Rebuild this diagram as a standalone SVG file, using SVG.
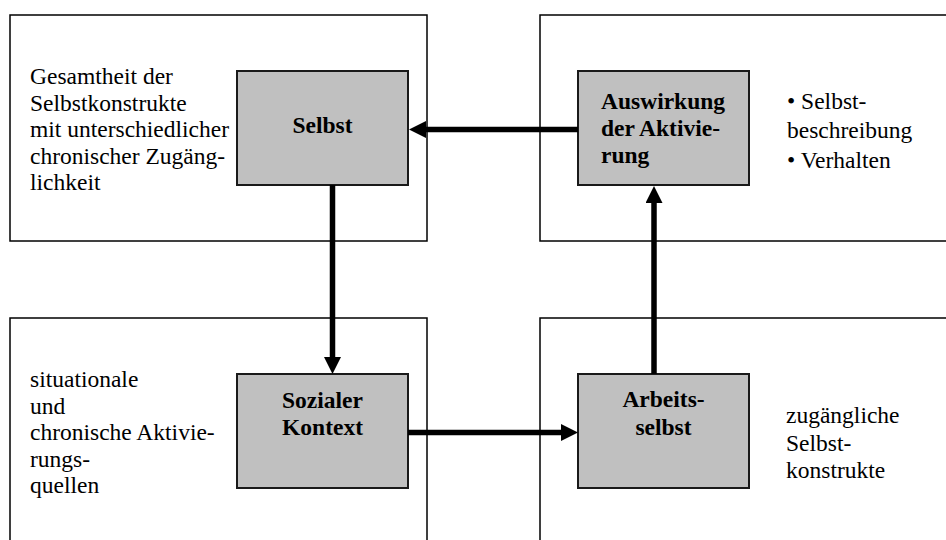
<svg xmlns="http://www.w3.org/2000/svg" width="946" height="540" viewBox="0 0 946 540">
<style>
.outer{fill:#ffffff;stroke:#000000;stroke-width:1.5}
.inner{fill:#c0c0c0;stroke:#1a1a1a;stroke-width:2}
text{font-family:'Liberation Serif','Times New Roman',serif;font-size:23.5px;fill:#000000}
.b{font-weight:bold}
.c{text-anchor:middle}
.conn{stroke:#000000;stroke-width:5.5;fill:none}
</style>
<defs>
<marker id="ah" markerUnits="userSpaceOnUse" markerWidth="18" markerHeight="18" refX="0" refY="8.5" orient="auto">
<path d="M0,0 L17,8.5 L0,17 z" fill="#000000"/>
</marker>
</defs>
<rect x="0" y="0" width="946" height="540" fill="#ffffff"/>
<g id="ctx-selbst">
<rect class="outer" x="10" y="15" width="417" height="226"/>
<text x="30" y="84">Gesamtheit der</text>
<text x="30" y="110.5">Selbstkonstrukte</text>
<text x="30" y="137">mit unterschiedlicher</text>
<text x="30" y="163.5">chronischer Zugäng-</text>
<text x="30" y="190">lichkeit</text>
</g>
<g id="ctx-auswirkung">
<rect class="outer" x="540" y="15" width="420" height="226"/>
<text x="787" y="109">• Selbst-</text>
<text x="787" y="138">beschreibung</text>
<text x="787" y="168">• Verhalten</text>
</g>
<g id="ctx-sozial">
<rect class="outer" x="10" y="318" width="417" height="232"/>
<text x="30" y="387">situationale</text>
<text x="30" y="413.5">und</text>
<text x="30" y="440">chronische Aktivie-</text>
<text x="30" y="466.5">rungs-</text>
<text x="30" y="493">quellen</text>
</g>
<g id="ctx-arbeits">
<rect class="outer" x="540" y="318" width="420" height="232"/>
<text x="786" y="423">zugängliche</text>
<text x="786" y="450.5">Selbst-</text>
<text x="786" y="478">konstrukte</text>
</g>
<g id="selbst">
<rect class="inner" x="237" y="71" width="171" height="114"/>
<text class="b c" x="322.5" y="133">Selbst</text>
</g>
<g id="auswirkung">
<rect class="inner" x="578" y="71" width="171" height="114"/>
<text class="b" x="601" y="108.5">Auswirkung</text>
<text class="b" x="601" y="135.5">der Aktivie-</text>
<text class="b" x="601" y="162.5">rung</text>
</g>
<g id="sozialer-kontext">
<rect class="inner" x="237" y="374" width="171" height="114"/>
<text class="b c" x="322.5" y="408">Sozialer</text>
<text class="b c" x="322.5" y="435">Kontext</text>
</g>
<g id="arbeitsselbst">
<rect class="inner" x="578" y="374" width="171" height="114"/>
<text class="b c" x="663.5" y="407">Arbeits-</text>
<text class="b c" x="663.5" y="435">selbst</text>
</g>
<g id="connectors">
<line class="conn" x1="578" y1="129.5" x2="426" y2="129.5" marker-end="url(#ah)"/>
<line class="conn" x1="332.5" y1="185" x2="332.5" y2="357" marker-end="url(#ah)"/>
<line class="conn" x1="408" y1="432.5" x2="561" y2="432.5" marker-end="url(#ah)"/>
<line class="conn" x1="654" y1="374" x2="654" y2="203" marker-end="url(#ah)"/>
</g>
</svg>
